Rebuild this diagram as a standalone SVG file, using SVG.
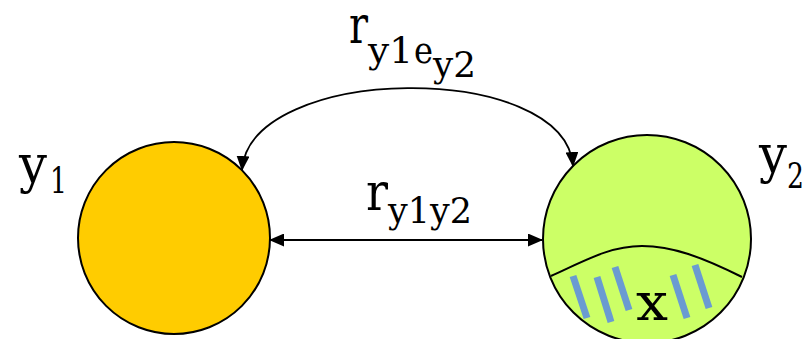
<svg xmlns="http://www.w3.org/2000/svg" width="807" height="339" viewBox="0 0 807 339">
<style>
  .node { stroke: #000; stroke-width: 2; }
  .lbl { font-family: 'DejaVu Serif', serif; fill: #000; font-size: 53px; }
  .sub { font-size: 35px; }
  .conn { fill: none; stroke: #000; stroke-width: 1.8; }
  .bar { stroke: #6A9BD1; stroke-width: 7; }
</style>
<defs>
  <marker id="ah" viewBox="0 0 15 13" markerWidth="15" markerHeight="13" markerUnits="userSpaceOnUse" refX="14" refY="6.5" orient="auto-start-reverse">
    <path d="M0,0 L15,6.5 L0,13 z" fill="#000"/>
  </marker>
  <clipPath id="c2"><circle cx="647" cy="239" r="104"/></clipPath>
</defs>
<rect width="807" height="339" fill="#fff"/>
<g id="y1">
  <circle class="node" cx="174" cy="238" r="96" fill="#FFCC00"/>
  <text class="lbl"><tspan x="19" y="182" textLength="28" lengthAdjust="spacingAndGlyphs">y</tspan><tspan class="sub" x="50" y="193" textLength="17" lengthAdjust="spacingAndGlyphs">1</tspan></text>
</g>
<g id="y2">
  <circle class="node" cx="647" cy="239" r="104" fill="#CCFF66"/>
  <path d="M551,276 C590,258 612,246 642,246 C672,246 702,257 742,277" fill="none" stroke="#000" stroke-width="2"/>
  <g clip-path="url(#c2)">
    <line class="bar" x1="573" y1="276" x2="587" y2="318"/>
    <line class="bar" x1="597" y1="277" x2="611" y2="322"/>
    <line class="bar" x1="615" y1="267" x2="629" y2="310"/>
    <line class="bar" x1="673" y1="275" x2="687" y2="318"/>
    <line class="bar" x1="695" y1="265" x2="709" y2="308"/>
  </g>
  <text class="lbl" x="636" y="320" textLength="32" lengthAdjust="spacingAndGlyphs">x</text>
  <text class="lbl"><tspan x="759" y="172" textLength="28" lengthAdjust="spacingAndGlyphs">y</tspan><tspan class="sub" x="787" y="188" textLength="17" lengthAdjust="spacingAndGlyphs">2</tspan></text>
</g>
<g id="connectors">
  <path class="conn" d="M242,170 C250,63 565,60 573,166" marker-start="url(#ah)" marker-end="url(#ah)"/>
  <line class="conn" x1="270" y1="240" x2="542" y2="240" marker-start="url(#ah)" marker-end="url(#ah)"/>
  <text class="lbl"><tspan x="349" y="43" textLength="19" lengthAdjust="spacingAndGlyphs">r</tspan><tspan class="sub" x="368" y="63" textLength="45" lengthAdjust="spacingAndGlyphs">y1</tspan><tspan class="sub" x="414" y="63" textLength="19" lengthAdjust="spacingAndGlyphs">e</tspan><tspan class="sub" x="433" y="77" textLength="43" lengthAdjust="spacingAndGlyphs">y2</tspan></text>
  <text class="lbl"><tspan x="366" y="210" textLength="22" lengthAdjust="spacingAndGlyphs">r</tspan><tspan class="sub" x="388" y="223" textLength="84" lengthAdjust="spacingAndGlyphs">y1y2</tspan></text>
</g>
</svg>
